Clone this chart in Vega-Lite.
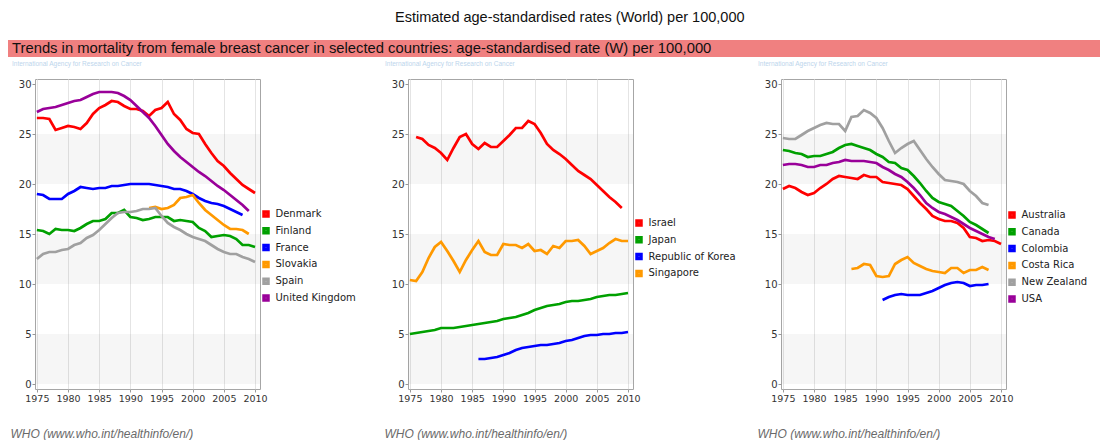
{
  "$schema": "https://vega.github.io/schema/vega-lite/v6.json",
  "background": "white",
  "padding": {"left": 7, "top": 9, "right": 2, "bottom": 0},
  "title": {
    "text": "Estimated age-standardised rates (World) per 100,000",
    "font": "Liberation Sans",
    "fontSize": 14.5,
    "fontWeight": "normal",
    "color": "#111111",
    "anchor": "middle",
    "dx": 16,
    "offset": 15
  },
  "config": {
    "font": "DejaVu Sans",
    "view": {"stroke": "#a6a6a6", "strokeWidth": 1}
  },
  "datasets": {
    "bands": [{"lo": 0, "hi": 5}, {"lo": 10, "hi": 15}, {"lo": 20, "hi": 25}],
    "europe": [
      {"c": "Denmark", "x": 1975, "v": 26.6}, {"c": "Denmark", "x": 1976, "v": 26.6}, {"c": "Denmark", "x": 1977, "v": 26.5}, {"c": "Denmark", "x": 1978, "v": 25.4}, {"c": "Denmark", "x": 1979, "v": 25.6}, {"c": "Denmark", "x": 1980, "v": 25.8}, {"c": "Denmark", "x": 1981, "v": 25.7}, {"c": "Denmark", "x": 1982, "v": 25.5}, {"c": "Denmark", "x": 1983, "v": 26.1}, {"c": "Denmark", "x": 1984, "v": 27.0}, {"c": "Denmark", "x": 1985, "v": 27.6}, {"c": "Denmark", "x": 1986, "v": 27.9}, {"c": "Denmark", "x": 1987, "v": 28.3}, {"c": "Denmark", "x": 1988, "v": 28.2}, {"c": "Denmark", "x": 1989, "v": 27.8}, {"c": "Denmark", "x": 1990, "v": 27.5}, {"c": "Denmark", "x": 1991, "v": 27.5}, {"c": "Denmark", "x": 1992, "v": 27.3}, {"c": "Denmark", "x": 1993, "v": 26.8}, {"c": "Denmark", "x": 1994, "v": 27.4}, {"c": "Denmark", "x": 1995, "v": 27.6}, {"c": "Denmark", "x": 1996, "v": 28.2}, {"c": "Denmark", "x": 1997, "v": 27.0}, {"c": "Denmark", "x": 1998, "v": 26.4}, {"c": "Denmark", "x": 1999, "v": 25.5}, {"c": "Denmark", "x": 2000, "v": 25.1}, {"c": "Denmark", "x": 2001, "v": 25.0}, {"c": "Denmark", "x": 2002, "v": 24.0}, {"c": "Denmark", "x": 2003, "v": 23.1}, {"c": "Denmark", "x": 2004, "v": 22.3}, {"c": "Denmark", "x": 2005, "v": 21.8}, {"c": "Denmark", "x": 2006, "v": 21.1}, {"c": "Denmark", "x": 2007, "v": 20.5}, {"c": "Denmark", "x": 2008, "v": 19.9}, {"c": "Denmark", "x": 2009, "v": 19.5}, {"c": "Denmark", "x": 2010, "v": 19.1},
      {"c": "Finland", "x": 1975, "v": 15.4}, {"c": "Finland", "x": 1976, "v": 15.3}, {"c": "Finland", "x": 1977, "v": 15.0}, {"c": "Finland", "x": 1978, "v": 15.5}, {"c": "Finland", "x": 1979, "v": 15.4}, {"c": "Finland", "x": 1980, "v": 15.4}, {"c": "Finland", "x": 1981, "v": 15.3}, {"c": "Finland", "x": 1982, "v": 15.6}, {"c": "Finland", "x": 1983, "v": 16.0}, {"c": "Finland", "x": 1984, "v": 16.3}, {"c": "Finland", "x": 1985, "v": 16.3}, {"c": "Finland", "x": 1986, "v": 16.5}, {"c": "Finland", "x": 1987, "v": 17.1}, {"c": "Finland", "x": 1988, "v": 17.1}, {"c": "Finland", "x": 1989, "v": 17.4}, {"c": "Finland", "x": 1990, "v": 16.7}, {"c": "Finland", "x": 1991, "v": 16.6}, {"c": "Finland", "x": 1992, "v": 16.4}, {"c": "Finland", "x": 1993, "v": 16.5}, {"c": "Finland", "x": 1994, "v": 16.7}, {"c": "Finland", "x": 1995, "v": 16.7}, {"c": "Finland", "x": 1996, "v": 16.7}, {"c": "Finland", "x": 1997, "v": 16.3}, {"c": "Finland", "x": 1998, "v": 16.4}, {"c": "Finland", "x": 1999, "v": 16.3}, {"c": "Finland", "x": 2000, "v": 16.2}, {"c": "Finland", "x": 2001, "v": 15.6}, {"c": "Finland", "x": 2002, "v": 15.3}, {"c": "Finland", "x": 2003, "v": 14.7}, {"c": "Finland", "x": 2004, "v": 14.8}, {"c": "Finland", "x": 2005, "v": 14.9}, {"c": "Finland", "x": 2006, "v": 14.8}, {"c": "Finland", "x": 2007, "v": 14.5}, {"c": "Finland", "x": 2008, "v": 13.9}, {"c": "Finland", "x": 2009, "v": 13.9}, {"c": "Finland", "x": 2010, "v": 13.7},
      {"c": "France", "x": 1975, "v": 19.0}, {"c": "France", "x": 1976, "v": 18.9}, {"c": "France", "x": 1977, "v": 18.5}, {"c": "France", "x": 1978, "v": 18.5}, {"c": "France", "x": 1979, "v": 18.5}, {"c": "France", "x": 1980, "v": 19.0}, {"c": "France", "x": 1981, "v": 19.3}, {"c": "France", "x": 1982, "v": 19.7}, {"c": "France", "x": 1983, "v": 19.6}, {"c": "France", "x": 1984, "v": 19.5}, {"c": "France", "x": 1985, "v": 19.6}, {"c": "France", "x": 1986, "v": 19.6}, {"c": "France", "x": 1987, "v": 19.8}, {"c": "France", "x": 1988, "v": 19.8}, {"c": "France", "x": 1989, "v": 19.9}, {"c": "France", "x": 1990, "v": 20.0}, {"c": "France", "x": 1991, "v": 20.0}, {"c": "France", "x": 1992, "v": 20.0}, {"c": "France", "x": 1993, "v": 20.0}, {"c": "France", "x": 1994, "v": 19.9}, {"c": "France", "x": 1995, "v": 19.8}, {"c": "France", "x": 1996, "v": 19.7}, {"c": "France", "x": 1997, "v": 19.5}, {"c": "France", "x": 1998, "v": 19.5}, {"c": "France", "x": 1999, "v": 19.3}, {"c": "France", "x": 2000, "v": 19.0}, {"c": "France", "x": 2001, "v": 18.6}, {"c": "France", "x": 2002, "v": 18.3}, {"c": "France", "x": 2003, "v": 18.1}, {"c": "France", "x": 2004, "v": 18.0}, {"c": "France", "x": 2005, "v": 17.8}, {"c": "France", "x": 2006, "v": 17.5}, {"c": "France", "x": 2007, "v": 17.2}, {"c": "France", "x": 2008, "v": 16.9},
      {"c": "Slovakia", "x": 1993, "v": 17.6}, {"c": "Slovakia", "x": 1994, "v": 17.7}, {"c": "Slovakia", "x": 1995, "v": 17.5}, {"c": "Slovakia", "x": 1996, "v": 17.6}, {"c": "Slovakia", "x": 1997, "v": 17.9}, {"c": "Slovakia", "x": 1998, "v": 18.6}, {"c": "Slovakia", "x": 1999, "v": 18.7}, {"c": "Slovakia", "x": 2000, "v": 18.9}, {"c": "Slovakia", "x": 2001, "v": 18.1}, {"c": "Slovakia", "x": 2002, "v": 17.4}, {"c": "Slovakia", "x": 2003, "v": 16.9}, {"c": "Slovakia", "x": 2004, "v": 16.4}, {"c": "Slovakia", "x": 2005, "v": 15.9}, {"c": "Slovakia", "x": 2006, "v": 15.5}, {"c": "Slovakia", "x": 2007, "v": 15.5}, {"c": "Slovakia", "x": 2008, "v": 15.4}, {"c": "Slovakia", "x": 2009, "v": 15.0},
      {"c": "Spain", "x": 1975, "v": 12.5}, {"c": "Spain", "x": 1976, "v": 13.0}, {"c": "Spain", "x": 1977, "v": 13.2}, {"c": "Spain", "x": 1978, "v": 13.2}, {"c": "Spain", "x": 1979, "v": 13.4}, {"c": "Spain", "x": 1980, "v": 13.5}, {"c": "Spain", "x": 1981, "v": 13.9}, {"c": "Spain", "x": 1982, "v": 14.1}, {"c": "Spain", "x": 1983, "v": 14.6}, {"c": "Spain", "x": 1984, "v": 14.9}, {"c": "Spain", "x": 1985, "v": 15.4}, {"c": "Spain", "x": 1986, "v": 16.0}, {"c": "Spain", "x": 1987, "v": 16.6}, {"c": "Spain", "x": 1988, "v": 17.1}, {"c": "Spain", "x": 1989, "v": 17.2}, {"c": "Spain", "x": 1990, "v": 17.2}, {"c": "Spain", "x": 1991, "v": 17.3}, {"c": "Spain", "x": 1992, "v": 17.5}, {"c": "Spain", "x": 1993, "v": 17.5}, {"c": "Spain", "x": 1994, "v": 17.6}, {"c": "Spain", "x": 1995, "v": 16.8}, {"c": "Spain", "x": 1996, "v": 16.1}, {"c": "Spain", "x": 1997, "v": 15.7}, {"c": "Spain", "x": 1998, "v": 15.4}, {"c": "Spain", "x": 1999, "v": 15.0}, {"c": "Spain", "x": 2000, "v": 14.7}, {"c": "Spain", "x": 2001, "v": 14.5}, {"c": "Spain", "x": 2002, "v": 14.3}, {"c": "Spain", "x": 2003, "v": 13.9}, {"c": "Spain", "x": 2004, "v": 13.5}, {"c": "Spain", "x": 2005, "v": 13.2}, {"c": "Spain", "x": 2006, "v": 13.0}, {"c": "Spain", "x": 2007, "v": 13.0}, {"c": "Spain", "x": 2008, "v": 12.7}, {"c": "Spain", "x": 2009, "v": 12.5}, {"c": "Spain", "x": 2010, "v": 12.2},
      {"c": "United Kingdom", "x": 1975, "v": 27.2}, {"c": "United Kingdom", "x": 1976, "v": 27.5}, {"c": "United Kingdom", "x": 1977, "v": 27.6}, {"c": "United Kingdom", "x": 1978, "v": 27.7}, {"c": "United Kingdom", "x": 1979, "v": 27.9}, {"c": "United Kingdom", "x": 1980, "v": 28.1}, {"c": "United Kingdom", "x": 1981, "v": 28.3}, {"c": "United Kingdom", "x": 1982, "v": 28.4}, {"c": "United Kingdom", "x": 1983, "v": 28.7}, {"c": "United Kingdom", "x": 1984, "v": 29.0}, {"c": "United Kingdom", "x": 1985, "v": 29.2}, {"c": "United Kingdom", "x": 1986, "v": 29.2}, {"c": "United Kingdom", "x": 1987, "v": 29.2}, {"c": "United Kingdom", "x": 1988, "v": 29.1}, {"c": "United Kingdom", "x": 1989, "v": 28.8}, {"c": "United Kingdom", "x": 1990, "v": 28.4}, {"c": "United Kingdom", "x": 1991, "v": 27.8}, {"c": "United Kingdom", "x": 1992, "v": 27.2}, {"c": "United Kingdom", "x": 1993, "v": 26.6}, {"c": "United Kingdom", "x": 1994, "v": 25.8}, {"c": "United Kingdom", "x": 1995, "v": 24.9}, {"c": "United Kingdom", "x": 1996, "v": 24.0}, {"c": "United Kingdom", "x": 1997, "v": 23.3}, {"c": "United Kingdom", "x": 1998, "v": 22.7}, {"c": "United Kingdom", "x": 1999, "v": 22.2}, {"c": "United Kingdom", "x": 2000, "v": 21.7}, {"c": "United Kingdom", "x": 2001, "v": 21.2}, {"c": "United Kingdom", "x": 2002, "v": 20.8}, {"c": "United Kingdom", "x": 2003, "v": 20.3}, {"c": "United Kingdom", "x": 2004, "v": 19.8}, {"c": "United Kingdom", "x": 2005, "v": 19.4}, {"c": "United Kingdom", "x": 2006, "v": 18.9}, {"c": "United Kingdom", "x": 2007, "v": 18.4}, {"c": "United Kingdom", "x": 2008, "v": 17.9}, {"c": "United Kingdom", "x": 2009, "v": 17.3}
    ],
    "asia": [
      {"c": "Israel", "x": 1976, "v": 24.7}, {"c": "Israel", "x": 1977, "v": 24.5}, {"c": "Israel", "x": 1978, "v": 23.9}, {"c": "Israel", "x": 1979, "v": 23.6}, {"c": "Israel", "x": 1980, "v": 23.1}, {"c": "Israel", "x": 1981, "v": 22.4}, {"c": "Israel", "x": 1982, "v": 23.6}, {"c": "Israel", "x": 1983, "v": 24.7}, {"c": "Israel", "x": 1984, "v": 25.0}, {"c": "Israel", "x": 1985, "v": 24.0}, {"c": "Israel", "x": 1986, "v": 23.5}, {"c": "Israel", "x": 1987, "v": 24.1}, {"c": "Israel", "x": 1988, "v": 23.7}, {"c": "Israel", "x": 1989, "v": 23.7}, {"c": "Israel", "x": 1990, "v": 24.3}, {"c": "Israel", "x": 1991, "v": 24.9}, {"c": "Israel", "x": 1992, "v": 25.6}, {"c": "Israel", "x": 1993, "v": 25.6}, {"c": "Israel", "x": 1994, "v": 26.3}, {"c": "Israel", "x": 1995, "v": 26.0}, {"c": "Israel", "x": 1996, "v": 25.1}, {"c": "Israel", "x": 1997, "v": 24.0}, {"c": "Israel", "x": 1998, "v": 23.4}, {"c": "Israel", "x": 1999, "v": 23.0}, {"c": "Israel", "x": 2000, "v": 22.5}, {"c": "Israel", "x": 2001, "v": 21.9}, {"c": "Israel", "x": 2002, "v": 21.3}, {"c": "Israel", "x": 2003, "v": 20.9}, {"c": "Israel", "x": 2004, "v": 20.5}, {"c": "Israel", "x": 2005, "v": 19.9}, {"c": "Israel", "x": 2006, "v": 19.3}, {"c": "Israel", "x": 2007, "v": 18.7}, {"c": "Israel", "x": 2008, "v": 18.2}, {"c": "Israel", "x": 2009, "v": 17.6},
      {"c": "Japan", "x": 1975, "v": 5.0}, {"c": "Japan", "x": 1976, "v": 5.1}, {"c": "Japan", "x": 1977, "v": 5.2}, {"c": "Japan", "x": 1978, "v": 5.3}, {"c": "Japan", "x": 1979, "v": 5.4}, {"c": "Japan", "x": 1980, "v": 5.6}, {"c": "Japan", "x": 1981, "v": 5.6}, {"c": "Japan", "x": 1982, "v": 5.6}, {"c": "Japan", "x": 1983, "v": 5.7}, {"c": "Japan", "x": 1984, "v": 5.8}, {"c": "Japan", "x": 1985, "v": 5.9}, {"c": "Japan", "x": 1986, "v": 6.0}, {"c": "Japan", "x": 1987, "v": 6.1}, {"c": "Japan", "x": 1988, "v": 6.2}, {"c": "Japan", "x": 1989, "v": 6.3}, {"c": "Japan", "x": 1990, "v": 6.5}, {"c": "Japan", "x": 1991, "v": 6.6}, {"c": "Japan", "x": 1992, "v": 6.7}, {"c": "Japan", "x": 1993, "v": 6.9}, {"c": "Japan", "x": 1994, "v": 7.1}, {"c": "Japan", "x": 1995, "v": 7.4}, {"c": "Japan", "x": 1996, "v": 7.6}, {"c": "Japan", "x": 1997, "v": 7.8}, {"c": "Japan", "x": 1998, "v": 7.9}, {"c": "Japan", "x": 1999, "v": 8.0}, {"c": "Japan", "x": 2000, "v": 8.2}, {"c": "Japan", "x": 2001, "v": 8.3}, {"c": "Japan", "x": 2002, "v": 8.3}, {"c": "Japan", "x": 2003, "v": 8.4}, {"c": "Japan", "x": 2004, "v": 8.5}, {"c": "Japan", "x": 2005, "v": 8.7}, {"c": "Japan", "x": 2006, "v": 8.8}, {"c": "Japan", "x": 2007, "v": 8.9}, {"c": "Japan", "x": 2008, "v": 8.9}, {"c": "Japan", "x": 2009, "v": 9.0}, {"c": "Japan", "x": 2010, "v": 9.1},
      {"c": "Republic of Korea", "x": 1986, "v": 2.5}, {"c": "Republic of Korea", "x": 1987, "v": 2.5}, {"c": "Republic of Korea", "x": 1988, "v": 2.6}, {"c": "Republic of Korea", "x": 1989, "v": 2.7}, {"c": "Republic of Korea", "x": 1990, "v": 2.9}, {"c": "Republic of Korea", "x": 1991, "v": 3.1}, {"c": "Republic of Korea", "x": 1992, "v": 3.4}, {"c": "Republic of Korea", "x": 1993, "v": 3.6}, {"c": "Republic of Korea", "x": 1994, "v": 3.7}, {"c": "Republic of Korea", "x": 1995, "v": 3.8}, {"c": "Republic of Korea", "x": 1996, "v": 3.9}, {"c": "Republic of Korea", "x": 1997, "v": 3.9}, {"c": "Republic of Korea", "x": 1998, "v": 4.0}, {"c": "Republic of Korea", "x": 1999, "v": 4.1}, {"c": "Republic of Korea", "x": 2000, "v": 4.3}, {"c": "Republic of Korea", "x": 2001, "v": 4.4}, {"c": "Republic of Korea", "x": 2002, "v": 4.6}, {"c": "Republic of Korea", "x": 2003, "v": 4.8}, {"c": "Republic of Korea", "x": 2004, "v": 4.9}, {"c": "Republic of Korea", "x": 2005, "v": 4.9}, {"c": "Republic of Korea", "x": 2006, "v": 5.0}, {"c": "Republic of Korea", "x": 2007, "v": 5.0}, {"c": "Republic of Korea", "x": 2008, "v": 5.1}, {"c": "Republic of Korea", "x": 2009, "v": 5.1}, {"c": "Republic of Korea", "x": 2010, "v": 5.2},
      {"c": "Singapore", "x": 1975, "v": 10.4}, {"c": "Singapore", "x": 1976, "v": 10.3}, {"c": "Singapore", "x": 1977, "v": 11.2}, {"c": "Singapore", "x": 1978, "v": 12.6}, {"c": "Singapore", "x": 1979, "v": 13.7}, {"c": "Singapore", "x": 1980, "v": 14.2}, {"c": "Singapore", "x": 1981, "v": 13.3}, {"c": "Singapore", "x": 1982, "v": 12.3}, {"c": "Singapore", "x": 1983, "v": 11.2}, {"c": "Singapore", "x": 1984, "v": 12.4}, {"c": "Singapore", "x": 1985, "v": 13.4}, {"c": "Singapore", "x": 1986, "v": 14.3}, {"c": "Singapore", "x": 1987, "v": 13.2}, {"c": "Singapore", "x": 1988, "v": 12.9}, {"c": "Singapore", "x": 1989, "v": 12.9}, {"c": "Singapore", "x": 1990, "v": 14.0}, {"c": "Singapore", "x": 1991, "v": 13.9}, {"c": "Singapore", "x": 1992, "v": 13.9}, {"c": "Singapore", "x": 1993, "v": 13.6}, {"c": "Singapore", "x": 1994, "v": 14.0}, {"c": "Singapore", "x": 1995, "v": 13.3}, {"c": "Singapore", "x": 1996, "v": 13.4}, {"c": "Singapore", "x": 1997, "v": 13.0}, {"c": "Singapore", "x": 1998, "v": 13.8}, {"c": "Singapore", "x": 1999, "v": 13.6}, {"c": "Singapore", "x": 2000, "v": 14.3}, {"c": "Singapore", "x": 2001, "v": 14.3}, {"c": "Singapore", "x": 2002, "v": 14.4}, {"c": "Singapore", "x": 2003, "v": 13.8}, {"c": "Singapore", "x": 2004, "v": 13.0}, {"c": "Singapore", "x": 2005, "v": 13.3}, {"c": "Singapore", "x": 2006, "v": 13.6}, {"c": "Singapore", "x": 2007, "v": 14.1}, {"c": "Singapore", "x": 2008, "v": 14.5}, {"c": "Singapore", "x": 2009, "v": 14.3}, {"c": "Singapore", "x": 2010, "v": 14.3}
    ],
    "americas": [
      {"c": "Australia", "x": 1975, "v": 19.5}, {"c": "Australia", "x": 1976, "v": 19.8}, {"c": "Australia", "x": 1977, "v": 19.6}, {"c": "Australia", "x": 1978, "v": 19.2}, {"c": "Australia", "x": 1979, "v": 18.9}, {"c": "Australia", "x": 1980, "v": 19.1}, {"c": "Australia", "x": 1981, "v": 19.6}, {"c": "Australia", "x": 1982, "v": 20.0}, {"c": "Australia", "x": 1983, "v": 20.5}, {"c": "Australia", "x": 1984, "v": 20.8}, {"c": "Australia", "x": 1985, "v": 20.7}, {"c": "Australia", "x": 1986, "v": 20.6}, {"c": "Australia", "x": 1987, "v": 20.5}, {"c": "Australia", "x": 1988, "v": 20.9}, {"c": "Australia", "x": 1989, "v": 20.7}, {"c": "Australia", "x": 1990, "v": 20.7}, {"c": "Australia", "x": 1991, "v": 20.2}, {"c": "Australia", "x": 1992, "v": 20.1}, {"c": "Australia", "x": 1993, "v": 20.0}, {"c": "Australia", "x": 1994, "v": 19.9}, {"c": "Australia", "x": 1995, "v": 19.5}, {"c": "Australia", "x": 1996, "v": 18.8}, {"c": "Australia", "x": 1997, "v": 18.1}, {"c": "Australia", "x": 1998, "v": 17.5}, {"c": "Australia", "x": 1999, "v": 16.8}, {"c": "Australia", "x": 2000, "v": 16.5}, {"c": "Australia", "x": 2001, "v": 16.3}, {"c": "Australia", "x": 2002, "v": 16.3}, {"c": "Australia", "x": 2003, "v": 16.1}, {"c": "Australia", "x": 2004, "v": 15.6}, {"c": "Australia", "x": 2005, "v": 14.7}, {"c": "Australia", "x": 2006, "v": 14.6}, {"c": "Australia", "x": 2007, "v": 14.3}, {"c": "Australia", "x": 2008, "v": 14.4}, {"c": "Australia", "x": 2009, "v": 14.3}, {"c": "Australia", "x": 2010, "v": 14.0},
      {"c": "Canada", "x": 1975, "v": 23.4}, {"c": "Canada", "x": 1976, "v": 23.3}, {"c": "Canada", "x": 1977, "v": 23.1}, {"c": "Canada", "x": 1978, "v": 23.0}, {"c": "Canada", "x": 1979, "v": 22.7}, {"c": "Canada", "x": 1980, "v": 22.8}, {"c": "Canada", "x": 1981, "v": 22.8}, {"c": "Canada", "x": 1982, "v": 23.0}, {"c": "Canada", "x": 1983, "v": 23.2}, {"c": "Canada", "x": 1984, "v": 23.6}, {"c": "Canada", "x": 1985, "v": 23.9}, {"c": "Canada", "x": 1986, "v": 24.0}, {"c": "Canada", "x": 1987, "v": 23.8}, {"c": "Canada", "x": 1988, "v": 23.6}, {"c": "Canada", "x": 1989, "v": 23.4}, {"c": "Canada", "x": 1990, "v": 23.0}, {"c": "Canada", "x": 1991, "v": 22.7}, {"c": "Canada", "x": 1992, "v": 22.2}, {"c": "Canada", "x": 1993, "v": 22.1}, {"c": "Canada", "x": 1994, "v": 21.6}, {"c": "Canada", "x": 1995, "v": 21.4}, {"c": "Canada", "x": 1996, "v": 20.8}, {"c": "Canada", "x": 1997, "v": 20.1}, {"c": "Canada", "x": 1998, "v": 19.3}, {"c": "Canada", "x": 1999, "v": 18.6}, {"c": "Canada", "x": 2000, "v": 18.2}, {"c": "Canada", "x": 2001, "v": 18.0}, {"c": "Canada", "x": 2002, "v": 17.8}, {"c": "Canada", "x": 2003, "v": 17.3}, {"c": "Canada", "x": 2004, "v": 16.8}, {"c": "Canada", "x": 2005, "v": 16.2}, {"c": "Canada", "x": 2006, "v": 15.9}, {"c": "Canada", "x": 2007, "v": 15.5}, {"c": "Canada", "x": 2008, "v": 15.1},
      {"c": "Colombia", "x": 1991, "v": 8.4}, {"c": "Colombia", "x": 1992, "v": 8.7}, {"c": "Colombia", "x": 1993, "v": 8.9}, {"c": "Colombia", "x": 1994, "v": 9.0}, {"c": "Colombia", "x": 1995, "v": 8.9}, {"c": "Colombia", "x": 1996, "v": 8.9}, {"c": "Colombia", "x": 1997, "v": 8.9}, {"c": "Colombia", "x": 1998, "v": 9.1}, {"c": "Colombia", "x": 1999, "v": 9.3}, {"c": "Colombia", "x": 2000, "v": 9.6}, {"c": "Colombia", "x": 2001, "v": 9.9}, {"c": "Colombia", "x": 2002, "v": 10.1}, {"c": "Colombia", "x": 2003, "v": 10.2}, {"c": "Colombia", "x": 2004, "v": 10.1}, {"c": "Colombia", "x": 2005, "v": 9.8}, {"c": "Colombia", "x": 2006, "v": 9.9}, {"c": "Colombia", "x": 2007, "v": 9.9}, {"c": "Colombia", "x": 2008, "v": 10.0},
      {"c": "Costa Rica", "x": 1986, "v": 11.5}, {"c": "Costa Rica", "x": 1987, "v": 11.6}, {"c": "Costa Rica", "x": 1988, "v": 12.0}, {"c": "Costa Rica", "x": 1989, "v": 11.9}, {"c": "Costa Rica", "x": 1990, "v": 10.8}, {"c": "Costa Rica", "x": 1991, "v": 10.7}, {"c": "Costa Rica", "x": 1992, "v": 10.8}, {"c": "Costa Rica", "x": 1993, "v": 12.0}, {"c": "Costa Rica", "x": 1994, "v": 12.4}, {"c": "Costa Rica", "x": 1995, "v": 12.7}, {"c": "Costa Rica", "x": 1996, "v": 12.1}, {"c": "Costa Rica", "x": 1997, "v": 11.8}, {"c": "Costa Rica", "x": 1998, "v": 11.5}, {"c": "Costa Rica", "x": 1999, "v": 11.3}, {"c": "Costa Rica", "x": 2000, "v": 11.2}, {"c": "Costa Rica", "x": 2001, "v": 11.1}, {"c": "Costa Rica", "x": 2002, "v": 11.6}, {"c": "Costa Rica", "x": 2003, "v": 11.6}, {"c": "Costa Rica", "x": 2004, "v": 11.1}, {"c": "Costa Rica", "x": 2005, "v": 11.4}, {"c": "Costa Rica", "x": 2006, "v": 11.4}, {"c": "Costa Rica", "x": 2007, "v": 11.7}, {"c": "Costa Rica", "x": 2008, "v": 11.4},
      {"c": "New Zealand", "x": 1975, "v": 24.6}, {"c": "New Zealand", "x": 1976, "v": 24.5}, {"c": "New Zealand", "x": 1977, "v": 24.5}, {"c": "New Zealand", "x": 1978, "v": 24.9}, {"c": "New Zealand", "x": 1979, "v": 25.3}, {"c": "New Zealand", "x": 1980, "v": 25.6}, {"c": "New Zealand", "x": 1981, "v": 25.9}, {"c": "New Zealand", "x": 1982, "v": 26.1}, {"c": "New Zealand", "x": 1983, "v": 26.0}, {"c": "New Zealand", "x": 1984, "v": 26.0}, {"c": "New Zealand", "x": 1985, "v": 25.3}, {"c": "New Zealand", "x": 1986, "v": 26.7}, {"c": "New Zealand", "x": 1987, "v": 26.8}, {"c": "New Zealand", "x": 1988, "v": 27.4}, {"c": "New Zealand", "x": 1989, "v": 27.1}, {"c": "New Zealand", "x": 1990, "v": 26.6}, {"c": "New Zealand", "x": 1991, "v": 25.6}, {"c": "New Zealand", "x": 1992, "v": 24.3}, {"c": "New Zealand", "x": 1993, "v": 23.1}, {"c": "New Zealand", "x": 1994, "v": 23.6}, {"c": "New Zealand", "x": 1995, "v": 24.0}, {"c": "New Zealand", "x": 1996, "v": 24.3}, {"c": "New Zealand", "x": 1997, "v": 23.4}, {"c": "New Zealand", "x": 1998, "v": 22.5}, {"c": "New Zealand", "x": 1999, "v": 21.7}, {"c": "New Zealand", "x": 2000, "v": 21.0}, {"c": "New Zealand", "x": 2001, "v": 20.4}, {"c": "New Zealand", "x": 2002, "v": 20.3}, {"c": "New Zealand", "x": 2003, "v": 20.2}, {"c": "New Zealand", "x": 2004, "v": 20.0}, {"c": "New Zealand", "x": 2005, "v": 19.3}, {"c": "New Zealand", "x": 2006, "v": 18.8}, {"c": "New Zealand", "x": 2007, "v": 18.1}, {"c": "New Zealand", "x": 2008, "v": 17.9},
      {"c": "USA", "x": 1975, "v": 21.9}, {"c": "USA", "x": 1976, "v": 22.0}, {"c": "USA", "x": 1977, "v": 22.0}, {"c": "USA", "x": 1978, "v": 21.9}, {"c": "USA", "x": 1979, "v": 21.7}, {"c": "USA", "x": 1980, "v": 21.7}, {"c": "USA", "x": 1981, "v": 21.9}, {"c": "USA", "x": 1982, "v": 21.9}, {"c": "USA", "x": 1983, "v": 22.1}, {"c": "USA", "x": 1984, "v": 22.2}, {"c": "USA", "x": 1985, "v": 22.4}, {"c": "USA", "x": 1986, "v": 22.3}, {"c": "USA", "x": 1987, "v": 22.3}, {"c": "USA", "x": 1988, "v": 22.3}, {"c": "USA", "x": 1989, "v": 22.2}, {"c": "USA", "x": 1990, "v": 22.1}, {"c": "USA", "x": 1991, "v": 21.7}, {"c": "USA", "x": 1992, "v": 21.4}, {"c": "USA", "x": 1993, "v": 21.0}, {"c": "USA", "x": 1994, "v": 20.7}, {"c": "USA", "x": 1995, "v": 20.2}, {"c": "USA", "x": 1996, "v": 19.6}, {"c": "USA", "x": 1997, "v": 18.9}, {"c": "USA", "x": 1998, "v": 18.1}, {"c": "USA", "x": 1999, "v": 17.6}, {"c": "USA", "x": 2000, "v": 17.2}, {"c": "USA", "x": 2001, "v": 17.0}, {"c": "USA", "x": 2002, "v": 16.7}, {"c": "USA", "x": 2003, "v": 16.4}, {"c": "USA", "x": 2004, "v": 16.0}, {"c": "USA", "x": 2005, "v": 15.6}, {"c": "USA", "x": 2006, "v": 15.3}, {"c": "USA", "x": 2007, "v": 15.0}, {"c": "USA", "x": 2008, "v": 14.7}, {"c": "USA", "x": 2009, "v": 14.5}
    ]
  },
  "vconcat": [
    {
      "width": 1092,
      "height": 17,
      "view": {"fill": "#f08080", "stroke": null},
      "data": {"values": [{"label": "Trends in mortality from female breast cancer in selected countries: age-standardised rate (W) per 100,000"}]},
      "mark": {"type": "text", "align": "left", "baseline": "middle", "font": "Liberation Sans", "fontSize": 14.8, "color": "#111111"},
      "encoding": {
        "text": {"field": "label"},
        "x": {"value": 4},
        "y": {"value": 9}
      }
    },
    {
      "hconcat": [
        {
          "width": 27,
          "height": 310,
          "view": {"stroke": null},
          "data": {"values": []},
          "mark": "point"
        },
        {
          "hconcat": [
            {
              "width": 225,
              "height": 310,
              "title": {"text": "International Agency for Research on Cancer", "anchor": "start", "frame": "group", "dx": -23, "offset": 12, "font": "Liberation Sans", "fontSize": 6.5, "fontWeight": "normal", "color": "#bcd5ec"},
              "layer": [
                {
                  "data": {"name": "bands"},
                  "mark": {"type": "rect", "fill": "#808080", "fillOpacity": 0.07},
                  "encoding": {
                    "y": {"field": "lo", "type": "quantitative", "scale": {"domain": [-0.5, 30.5], "nice": false, "zero": false},
                      "axis": {"values": [0, 5, 10, 15, 20, 25, 30], "title": null, "grid": false, "domain": false, "tickSize": 3, "tickColor": "#999999", "labelFontSize": 10, "labelColor": "#333333", "labelPadding": 1, "minExtent": 27, "maxExtent": 27}},
                    "y2": {"field": "hi"}
                  }
                },
                {
                  "data": {"name": "europe"},
                  "mark": {"type": "line", "strokeWidth": 2.7},
                  "encoding": {
                    "x": {"field": "x", "type": "quantitative", "scale": {"domain": [1974.7, 2010.8], "nice": false, "zero": false},
                      "axis": {"values": [1975, 1980, 1985, 1990, 1995, 2000, 2005, 2010], "format": "d", "grid": true, "gridColor": "#e4e4e4", "domain": false, "tickSize": 3, "tickColor": "#999999", "labelFontSize": 9.5, "labelColor": "#333333", "labelPadding": 1, "labelFlush": false,
                        "title": "WHO (www.who.int/healthinfo/en/)", "titleFont": "Liberation Sans", "titleFontStyle": "italic", "titleFontWeight": "normal", "titleFontSize": 12, "titleColor": "#6a6a6a", "titleAnchor": "start", "titleAlign": "left", "titleBaseline": "alphabetic", "titleX": -25, "titleY": 48}},
                    "y": {"field": "v", "type": "quantitative", "title": null},
                    "color": {"field": "c", "type": "nominal",
                      "scale": {"domain": ["Denmark", "Finland", "France", "Slovakia", "Spain", "United Kingdom"], "range": ["#ff0000", "#00a000", "#0000ff", "#ff9900", "#a0a0a0", "#990099"]},
                      "legend": {"orient": "none", "legendX": 226, "legendY": 130, "title": null, "padding": 0, "symbolType": "square", "symbolSize": 16, "symbolStrokeWidth": 3.5, "labelFont": "DejaVu Sans", "labelFontSize": 10, "labelColor": "#222222", "labelOffset": 4.5, "rowPadding": -1.2}}
                  }
                }
              ]
            },
            {
              "width": 225,
              "height": 310,
              "title": {"text": "International Agency for Research on Cancer", "anchor": "start", "frame": "group", "dx": -23, "offset": 12, "font": "Liberation Sans", "fontSize": 6.5, "fontWeight": "normal", "color": "#bcd5ec"},
              "layer": [
                {
                  "data": {"name": "bands"},
                  "mark": {"type": "rect", "fill": "#808080", "fillOpacity": 0.07},
                  "encoding": {
                    "y": {"field": "lo", "type": "quantitative", "scale": {"domain": [-0.5, 30.5], "nice": false, "zero": false},
                      "axis": {"values": [0, 5, 10, 15, 20, 25, 30], "title": null, "grid": false, "domain": false, "tickSize": 3, "tickColor": "#999999", "labelFontSize": 10, "labelColor": "#333333", "labelPadding": 1, "minExtent": 27, "maxExtent": 27}},
                    "y2": {"field": "hi"}
                  }
                },
                {
                  "data": {"name": "asia"},
                  "mark": {"type": "line", "strokeWidth": 2.7},
                  "encoding": {
                    "x": {"field": "x", "type": "quantitative", "scale": {"domain": [1974.7, 2010.8], "nice": false, "zero": false},
                      "axis": {"values": [1975, 1980, 1985, 1990, 1995, 2000, 2005, 2010], "format": "d", "grid": true, "gridColor": "#e4e4e4", "domain": false, "tickSize": 3, "tickColor": "#999999", "labelFontSize": 9.5, "labelColor": "#333333", "labelPadding": 1, "labelFlush": false,
                        "title": "WHO (www.who.int/healthinfo/en/)", "titleFont": "Liberation Sans", "titleFontStyle": "italic", "titleFontWeight": "normal", "titleFontSize": 12, "titleColor": "#6a6a6a", "titleAnchor": "start", "titleAlign": "left", "titleBaseline": "alphabetic", "titleX": -24, "titleY": 48}},
                    "y": {"field": "v", "type": "quantitative", "title": null},
                    "color": {"field": "c", "type": "nominal",
                      "scale": {"domain": ["Israel", "Japan", "Republic of Korea", "Singapore"], "range": ["#ff0000", "#00a000", "#0000ff", "#ff9900"]},
                      "legend": {"orient": "none", "legendX": 226, "legendY": 139, "title": null, "padding": 0, "symbolType": "square", "symbolSize": 16, "symbolStrokeWidth": 3.5, "labelFont": "DejaVu Sans", "labelFontSize": 10, "labelColor": "#222222", "labelOffset": 4.5, "rowPadding": -1.2}}
                  }
                }
              ]
            },
            {
              "width": 225,
              "height": 310,
              "title": {"text": "International Agency for Research on Cancer", "anchor": "start", "frame": "group", "dx": -23, "offset": 12, "font": "Liberation Sans", "fontSize": 6.5, "fontWeight": "normal", "color": "#bcd5ec"},
              "layer": [
                {
                  "data": {"name": "bands"},
                  "mark": {"type": "rect", "fill": "#808080", "fillOpacity": 0.07},
                  "encoding": {
                    "y": {"field": "lo", "type": "quantitative", "scale": {"domain": [-0.5, 30.5], "nice": false, "zero": false},
                      "axis": {"values": [0, 5, 10, 15, 20, 25, 30], "title": null, "grid": false, "domain": false, "tickSize": 3, "tickColor": "#999999", "labelFontSize": 10, "labelColor": "#333333", "labelPadding": 1, "minExtent": 27, "maxExtent": 27}},
                    "y2": {"field": "hi"}
                  }
                },
                {
                  "data": {"name": "americas"},
                  "mark": {"type": "line", "strokeWidth": 2.7},
                  "encoding": {
                    "x": {"field": "x", "type": "quantitative", "scale": {"domain": [1974.7, 2010.8], "nice": false, "zero": false},
                      "axis": {"values": [1975, 1980, 1985, 1990, 1995, 2000, 2005, 2010], "format": "d", "grid": true, "gridColor": "#e4e4e4", "domain": false, "tickSize": 3, "tickColor": "#999999", "labelFontSize": 9.5, "labelColor": "#333333", "labelPadding": 1, "labelFlush": false,
                        "title": "WHO (www.who.int/healthinfo/en/)", "titleFont": "Liberation Sans", "titleFontStyle": "italic", "titleFontWeight": "normal", "titleFontSize": 12, "titleColor": "#6a6a6a", "titleAnchor": "start", "titleAlign": "left", "titleBaseline": "alphabetic", "titleX": -24, "titleY": 48}},
                    "y": {"field": "v", "type": "quantitative", "title": null},
                    "color": {"field": "c", "type": "nominal",
                      "scale": {"domain": ["Australia", "Canada", "Colombia", "Costa Rica", "New Zealand", "USA"], "range": ["#ff0000", "#00a000", "#0000ff", "#ff9900", "#a0a0a0", "#990099"]},
                      "legend": {"orient": "none", "legendX": 226, "legendY": 131, "title": null, "padding": 0, "symbolType": "square", "symbolSize": 16, "symbolStrokeWidth": 3.5, "labelFont": "DejaVu Sans", "labelFontSize": 10, "labelColor": "#222222", "labelOffset": 4.5, "rowPadding": -1.2}}
                  }
                }
              ]
            }
          ],
          "bounds": "flush",
          "spacing": 148,
          "resolve": {"scale": {"x": "independent", "y": "independent", "color": "independent"}, "legend": {"color": "independent"}}
        }
      ],
      "bounds": "flush",
      "spacing": 0
    }
  ],
  "spacing": 2
}
